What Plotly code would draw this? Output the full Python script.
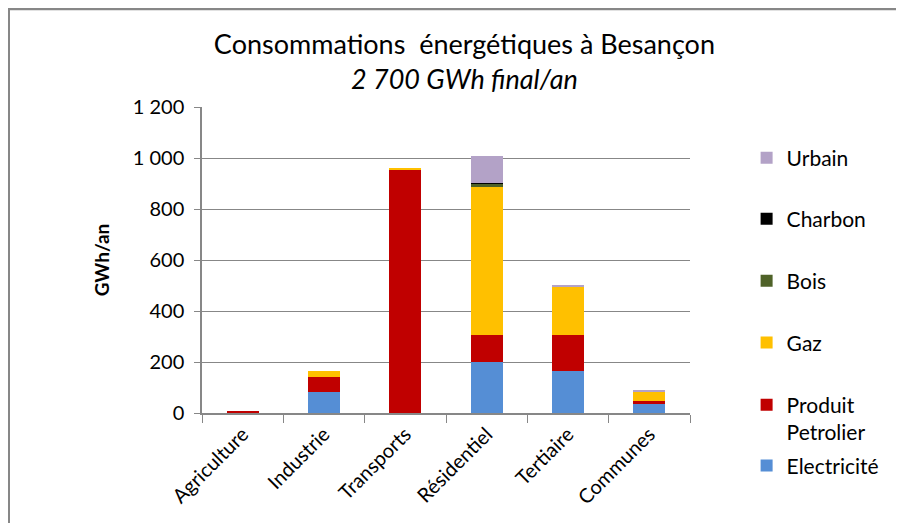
import plotly.graph_objects as go

# secteurs et consommations (GWh/an)
secteurs = ["Agriculture", "Industrie", "Transports", "Résidentiel", "Tertiaire", "Communes"]
electricite = [0, 84, 0, 201, 166, 37]
produit_petrolier = [5, 58, 954, 106, 141, 11]
gaz = [0, 24, 8, 581, 188, 37]
bois = [0, 0, 0, 13, 0, 0]
charbon = [0, 0, 0, 1, 0, 0]
urbain = [0, 0, 0, 106, 5, 2]

# nom, valeurs, couleur, légende, position verticale de la légende
series = [
    ("Electricité", electricite, "#558ed5", "legend7", -0.173),
    ("Produit<br>Petrolier", produit_petrolier, "#c00000", "legend2", -0.018),
    ("Gaz", gaz, "#ffc000", "legend3", 0.229),
    ("Bois", bois, "#4f6228", "legend4", 0.431),
    ("Charbon", charbon, "#000000", "legend5", 0.634),
    ("Urbain", urbain, "#b3a2c7", "legend6", 0.833),
]

FONT = "Lato, Open Sans, sans-serif"
GRIS = "#878787"

fig = go.Figure()
legendes = {}
for nom, vals, col, leg, ypos in series:
    fig.add_trace(go.Bar(
        x=secteurs, y=vals, name=nom, marker=dict(color=col, line=dict(width=0)),
        legend=leg,
    ))
    legendes[leg] = dict(
        x=1.116, xanchor="left", y=ypos, yanchor="middle", valign="top",
        font=dict(family=FONT, size=21), bgcolor="rgba(0,0,0,0)",
    )

# la légende par défaut reste vide : on la cache
legendes["legend"] = dict(visible=False)

# la page a une marge de 8 px : la figure fait 888 x 515 pour tenir dans la fenêtre
fig.update_layout(
    barmode="stack",
    bargap=0.61,
    width=888, height=515,
    margin=dict(l=194, r=204, t=99, b=110),
    paper_bgcolor="white",
    plot_bgcolor="white",
    font=dict(family=FONT, size=20, color="#000000"),
    title=dict(
        text="Consommations  énergétiques à Besançon<br><i>2 700 GWh final/an</i>",
        x=0.514, xanchor="center", y=0.910, yanchor="middle",
        font=dict(family=FONT, size=27, color="#000000"),
    ),
    xaxis=dict(
        tickangle=-45, tickson="boundaries", ticks="outside", ticklen=8,
        tickcolor=GRIS, showline=True, linecolor=GRIS, linewidth=1.5,
        tickfont=dict(family=FONT, size=20),
    ),
    yaxis=dict(
        range=[0, 1200], dtick=200, tickformat=",d",
        ticks="outside", ticklen=6, tickcolor=GRIS, ticklabelstandoff=6,
        showline=True, linecolor=GRIS, linewidth=1.5,
        gridcolor=GRIS, gridwidth=1, zeroline=False,
        title=dict(text="<b>GWh/an</b>", font=dict(family=FONT, size=19), standoff=18),
        tickfont=dict(family=FONT, size=20),
    ),
    separators=", ",
    shapes=[dict(
        type="rect", xref="paper", yref="paper",
        x0=-0.396, x1=1.6, y0=-0.6, y1=1.32,
        line=dict(color=GRIS, width=2.5), fillcolor="rgba(0,0,0,0)", layer="below",
    )],
    **legendes,
)

fig.write_html("out.html", config={"displayModeBar": False})
